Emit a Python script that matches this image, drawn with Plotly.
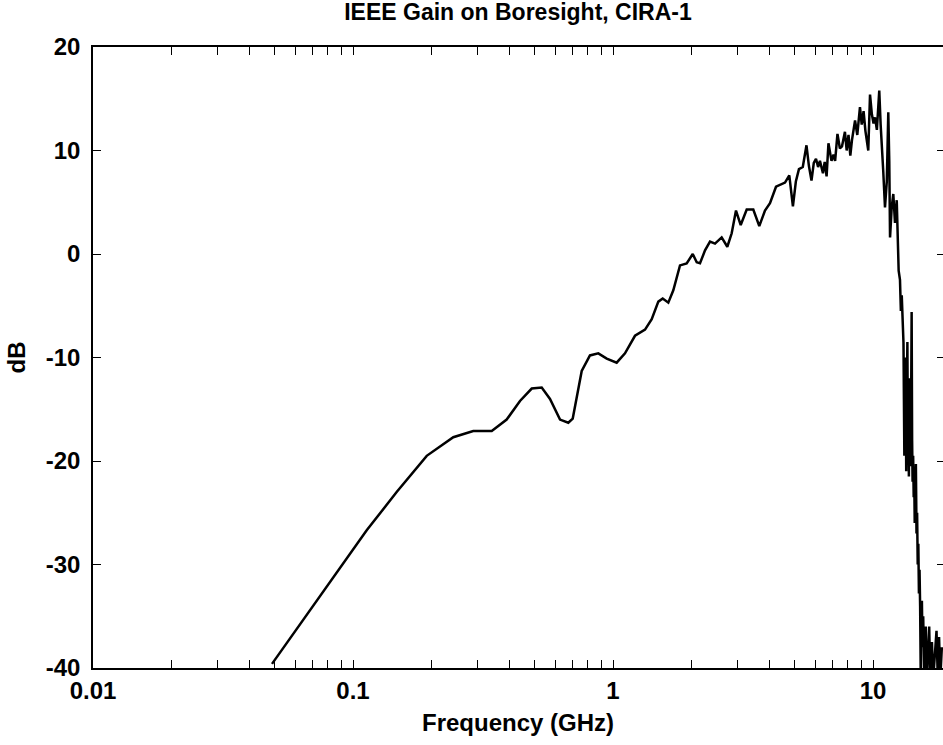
import math
import plotly.graph_objects as go

# Frequency (GHz) and gain (dB)
freq_ghz = [
    0.0488, 0.1129, 0.1472, 0.1921, 0.2431, 0.290, 0.3417, 0.390, 0.4388, 0.4869,
    0.5319, 0.5724, 0.6255, 0.6731, 0.700, 0.758, 0.8154, 0.878, 0.946, 1.033,
    1.112, 1.215, 1.328, 1.409, 1.494, 1.553, 1.632, 1.706, 1.81, 1.92,
    2.026, 2.099, 2.161, 2.259, 2.361, 2.468, 2.618, 2.752, 2.861, 2.972,
    3.099, 3.268, 3.464, 3.653, 3.842, 4.016, 4.236, 4.455, 4.587, 4.765,
    4.92, 5.05, 5.19, 5.37, 5.548, 5.67, 5.80, 5.92, 6.036, 6.15,
    6.25, 6.42, 6.52, 6.63, 6.74, 6.925, 7.05, 7.15, 7.30, 7.46,
    7.60, 7.80, 7.92, 8.05, 8.18, 8.30, 8.53, 8.70, 8.91, 9.05,
    9.20, 9.35, 9.59, 9.74, 9.90, 10.05, 10.18, 10.35, 10.57, 10.70,
    10.82, 10.95, 11.12, 11.30, 11.45, 11.55, 11.63, 11.80, 11.97, 12.15,
    12.34, 12.45, 12.55, 12.70, 12.80, 12.90, 13.00, 13.10, 13.15, 13.20,
    13.25, 13.30, 13.35, 13.42, 13.50, 13.56, 13.62, 13.68, 13.74, 13.80,
    13.88, 13.95, 14.02, 14.08, 14.14, 14.20, 14.27, 14.34, 14.40, 14.47,
    14.55, 14.62, 14.70, 14.78, 14.86, 14.94, 15.02, 15.10, 15.18, 15.26,
    15.34, 15.42, 15.50, 15.60, 15.72, 15.85, 15.95, 16.10, 16.25, 16.45,
    16.60, 16.85, 17.05, 17.30, 17.55, 17.75, 17.95, 18.15, 18.40,
]
gain_db = [
    -39.6, -26.7, -23.0, -19.5, -17.7, -17.1, -17.1, -16.0, -14.2, -13.0,
    -12.9, -14.0, -16.0, -16.3, -15.9, -11.3, -9.8, -9.6, -10.1, -10.5,
    -9.6, -7.9, -7.3, -6.3, -4.6, -4.3, -4.7, -3.5, -1.1, -0.9,
    0.0, -0.8, -0.9, 0.35, 1.2, 1.0, 1.6, 0.7, 2.0, 4.2,
    2.8, 4.3, 4.3, 2.7, 4.2, 4.9, 6.5, 6.8, 6.9, 7.6,
    4.6, 7.0, 8.2, 8.4, 10.5, 8.5, 7.1, 8.8, 9.2, 8.4,
    9.0, 7.8, 8.9, 7.5, 10.7, 9.0, 9.6, 9.0, 11.6, 10.2,
    10.4, 11.8, 10.0, 11.5, 9.5, 11.0, 12.9, 11.5, 14.2, 12.5,
    13.8, 11.9, 10.0, 15.4, 13.5, 12.6, 13.2, 12.0, 15.8, 12.5,
    10.7, 8.0, 4.5, 7.0, 13.7, 9.0, 1.6, 4.5, 5.8, 3.0,
    5.2, 1.3, -1.6, -2.5, -5.5, -4.0, -7.5, -8.6, -14.0, -19.5,
    -11.0, -18.0, -10.0, -21.0, -13.0, -8.5, -19.0, -15.5, -21.5, -12.0,
    -17.0, -20.5, -14.0, -5.6, -18.0, -22.0, -19.5, -23.5, -21.0, -26.0,
    -22.5, -20.3, -27.0, -25.0, -30.0, -28.0, -32.8, -30.5, -34.0, -40.5,
    -35.0, -33.5, -38.0, -35.0, -40.5, -37.5, -36.0, -41.0, -38.0, -36.0,
    -41.0, -37.5, -41.0, -38.5, -36.4, -41.0, -37.0, -41.0, -38.0,
]

x_tick_vals = [0.01, 0.1, 1, 10]
x_tick_text = ["0.01", "0.1", "1", "10"]
x_minor_vals = [m * d for d in (0.01, 0.1, 1, 10) for m in range(2, 10)]
y_tick_vals = [-40, -30, -20, -10, 0, 10, 20]
y_tick_text = ["-40", "-30", "-20", "-10", "0", "10", "20"]

title_text = "IEEE Gain on Boresight, CIRA-1"
x_title = "Frequency (GHz)"
y_title = "dB"

FONT = "Liberation Sans, Arial, Helvetica, sans-serif"
W, H = 943, 745
L, R, T, B = 93, 0, 47, 77
PW = W - L - R
x_right = 10 ** (-2 + PW / 260.0)

fig = go.Figure()
fig.add_trace(go.Scatter(
    x=freq_ghz, y=gain_db, mode="lines",
    line=dict(color="black", width=2.5),
    showlegend=False, hoverinfo="skip",
))
fig.add_trace(go.Scatter(
    x=[None], y=[None], yaxis="y2", mode="lines",
    showlegend=False, hoverinfo="skip",
))

fig.add_annotation(
    text=y_title, textangle=-90, showarrow=False,
    xref="paper", yref="paper", x=-(L - 16) / PW, y=0.5,
    xanchor="center", yanchor="middle",
    font=dict(size=24, family=FONT, color="black", weight="bold"),
)

fig.update_layout(
    width=W, height=H,
    margin=dict(l=L, r=R, t=T, b=B, pad=0),
    paper_bgcolor="white", plot_bgcolor="white",
    font=dict(family=FONT, color="black"),
    title=dict(
        text=title_text, x=(L + (W - R)) / 2 / W, xanchor="center",
        y=1 - 12 / H, yanchor="middle", yref="container", xref="container",
        font=dict(size=23, family=FONT, color="black", weight="bold"),
    ),
    xaxis=dict(
        type="log", range=[-2, math.log10(x_right)],
        tickmode="array", tickvals=x_tick_vals, ticktext=x_tick_text,
        ticks="inside", ticklen=8, tickwidth=1.3, tickcolor="black",
        minor=dict(tickvals=x_minor_vals, ticks="inside", ticklen=8,
                   tickwidth=1.3, tickcolor="black", showgrid=False),
        showline=True, linecolor="black", linewidth=1.6, mirror="ticks",
        showgrid=False, zeroline=False,
        tickfont=dict(size=24, family=FONT, color="black", weight="bold"),
        title=dict(text=x_title,
                   font=dict(size=24, family=FONT, color="black", weight="bold"),
                   standoff=12),
    ),
    yaxis=dict(
        range=[-40, 20],
        tickmode="array", tickvals=y_tick_vals, ticktext=y_tick_text,
        ticks="inside", ticklen=8, tickwidth=1.3, tickcolor="black",
        showline=True, linecolor="black", linewidth=1.6, mirror=False,
        showgrid=False, zeroline=False,
        tickfont=dict(size=24, family=FONT, color="black", weight="bold"),
        ticklabelstandoff=6,
    ),
    yaxis2=dict(
        range=[-40, 20], overlaying="y", side="right",
        tickmode="array", tickvals=y_tick_vals,
        ticks="inside", ticklen=6, tickwidth=1.3, tickcolor="black",
        showticklabels=False, showline=False, showgrid=False, zeroline=False,
    ),
)

fig.write_html(
    "out.html",
    config={"displayModeBar": False},
    post_script="document.body.style.margin='0px';document.body.style.overflow='hidden';",
)
